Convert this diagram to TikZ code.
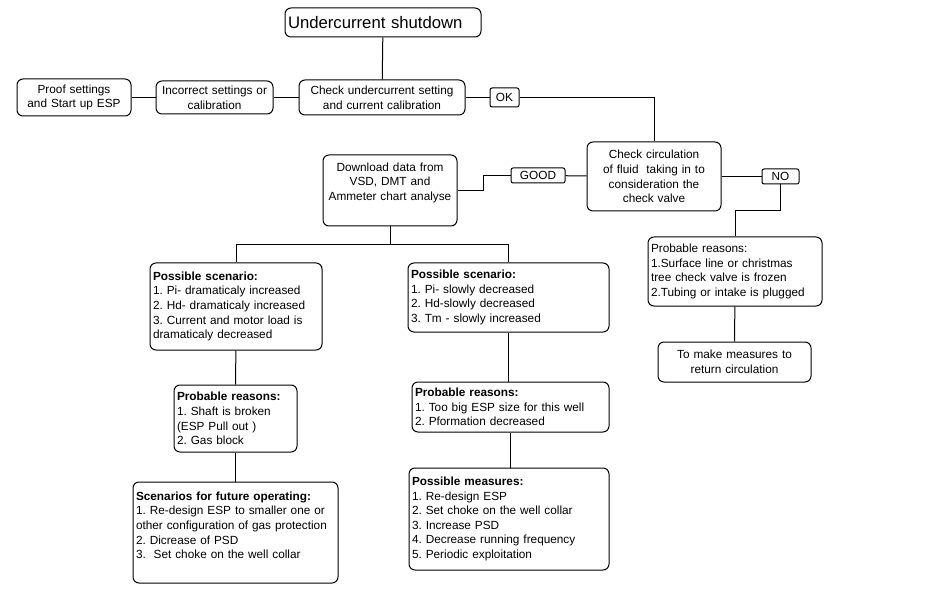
\documentclass[tikz,border=0pt]{standalone}
\usepackage{fontspec}
\setmainfont{Liberation Sans}
\frenchspacing

\begin{document}
\begin{tikzpicture}[x=1pt,y=-1pt,
  box/.style={draw, rounded corners=6pt, line width=1pt, inner xsep=3pt, inner ysep=2pt, font=\fontsize{11.8}{14.6}\selectfont},
  lbox/.style={box, align=left},
  cbox/.style={box, align=center},
  tag/.style={draw, rounded corners=2pt, line width=1pt, inner sep=1pt, font=\fontsize{11.8}{14}\selectfont},
  link/.style={line width=1pt}]

\useasboundingbox[fill=white] (0,0) rectangle (925,601);

% top row
\node[lbox, text width=190pt, minimum height=29pt, font=\fontsize{16.7}{18}\selectfont] (title) at (383,22.5) {Undercurrent shutdown};
\node[cbox, text width=108pt, minimum height=37pt] (proof) at (74,97.5) {Proof settings\\and Start up ESP};
\node[cbox, text width=111pt, minimum height=33pt] (incorrect) at (214.5,97.5) {Incorrect settings or\\calibration};
\node[cbox, text width=160pt, minimum height=35pt] (check) at (382,97.5) {Check undercurrent setting\\and current calibration};
\node[tag, minimum width=29pt, minimum height=19pt] (ok) at (504.5,97.5) {OK};

% circulation
\node[cbox, text width=128pt, minimum height=69pt] (circ) at (654,176.5) {Check circulation\\of fluid\ \ taking in to\\consideration the\\check valve};
\node[tag, minimum width=54pt, minimum height=15pt] (good) at (538,175.5) {GOOD};
\node[tag, minimum width=37pt, minimum height=15pt] (no) at (780.5,176.5) {NO};
\node[cbox, text width=128pt, minimum height=71pt] (download) at (390,190.5) {Download data from\\VSD, DMT and\\Ammeter chart analyse\\[3pt]\mbox{}};

% left branch
\node[lbox, text width=166pt, minimum height=87pt] (scenL) at (236,306.5) {\textbf{Possible scenario:}\\1. Pi- dramaticaly increased\\2. Hd- dramaticaly increased\\3. Current and motor load is\\dramaticaly decreased};
\node[lbox, text width=117pt, minimum height=67pt] (reasL) at (235.5,418.5) {\textbf{Probable reasons:}\\1. Shaft is broken\\(ESP Pull out )\\2. Gas block};
\node[lbox, text width=199pt, minimum height=101pt] (futL) at (235.5,532.5) {\textbf{Scenarios for future operating:}\\1. Re-design ESP to smaller one or\\other configuration of gas protection\\2. Dicrease of PSD\\3. \ Set choke on the well collar\\\mbox{}};

% middle branch
\node[lbox, text width=195pt, minimum height=69pt] (scenR) at (508.5,297.5) {\textbf{Possible scenario:}\\1. Pi- slowly decreased\\2. Hd-slowly decreased\\3. Tm - slowly increased};
\node[lbox, text width=191pt, minimum height=50pt] (reasR) at (510.5,407) {\textbf{Probable reasons:}\\1. Too big ESP size for this well\\2. Pformation decreased};
\node[lbox, text width=194pt, minimum height=102pt] (measR) at (509,519) {\textbf{Possible measures:}\\1. Re-design ESP\\2. Set choke on the well collar\\3. Increase PSD\\4. Decrease running frequency\\5. Periodic exploitation};

% right branch
\node[lbox, text width=168pt, minimum height=69pt] (reasNo) at (735,271.5) {Probable reasons:\\1.Surface line or christmas\\tree check valve is frozen\\2.Tubing or intake is plugged};
\node[cbox, text width=147pt, minimum height=40pt] (make) at (734.5,362) {To make measures to\\return circulation};

% connectors
\draw[link] (title) -- (check);
\draw[link] (proof) -- (incorrect);
\draw[link] (incorrect) -- (check);
\draw[link] (check) -- (ok);
\draw[link] (ok.east) -| (circ.north);
\draw[link] (circ) -- (good);
\draw[link] (good.west) -- ++(-27,0) |- (download.east);
\draw[link] (circ) -- (no);
\draw[link] (no.south) -- ++(0,26) -| (reasNo.north);
\draw[link] (reasNo) -- (make);
\draw[link] (download.south) -- ++(0,18) -| (scenL.north);
\draw[link] (download.south) -- ++(0,18) -| (scenR.north);
\draw[link] (scenL) -- (reasL);
\draw[link] (reasL) -- (futL);
\draw[link] (scenR.south) -- (scenR.south |- reasR.north);
\draw[link] (reasR.south) -- (reasR.south |- measR.north);

\end{tikzpicture}
\end{document}
